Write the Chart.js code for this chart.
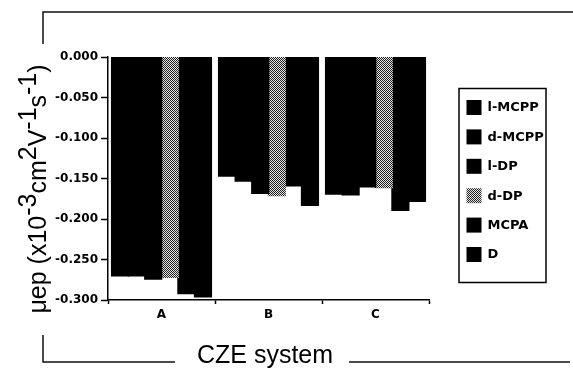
<!DOCTYPE html>
<html>
<head>
<meta charset="utf-8">
<script src="https://cdn.jsdelivr.net/npm/chart.js@4.4.1/dist/chart.umd.min.js"></script>
<style>
  html, body { margin: 0; padding: 0; background: #fff; }
</style>
</head>
<body>
<canvas id="chart" width="573" height="373"></canvas>
<script>
'use strict';
// data (x10-3 cm2 V-1 s-1)
const categories = ['A', 'B', 'C'];
const seriesNames = ['l-MCPP', 'd-MCPP', 'l-DP', 'd-DP', 'MCPA', 'D'];
const lMcpp = [-0.270, -0.147, -0.169];
const dMcpp = [-0.270, -0.153, -0.170];
const lDp = [-0.274, -0.168, -0.160];
const dDp = [-0.272, -0.171, -0.161];
const mcpa = [-0.292, -0.159, -0.189];
const dSeries = [-0.296, -0.183, -0.178];
const yTicks = [0, -0.05, -0.1, -0.15, -0.2, -0.25, -0.3];

const yTitleParts = [['\u03bcep (x10', 0], ['-3', 1], ['cm', 0], ['2', 1], ['V', 0], ['-1', 1], ['s', 0], ['-1', 1], [')', 0]];
const xTitle = 'CZE system';

// halftone fill used for d-DP
const makeDots = function () {
  const c = document.createElement('canvas');
  c.width = 2;
  c.height = 2;
  const g = c.getContext('2d');
  g.fillStyle = '#e4e4e4';
  g.fillRect(0, 0, 2, 2);
  g.fillStyle = '#222';
  g.fillRect(0, 0, 1, 1);
  g.fillRect(1, 1, 1, 1);
  return g.createPattern(c, 'repeat');
};
const dots = makeDots();

const seriesValues = [lMcpp, dMcpp, lDp, dDp, mcpa, dSeries];
const fills = ['#000', '#000', '#000', dots, '#000', '#000'];

const decorations = {
  id: 'decorations',
  afterDraw(chart) {
    const ctx = chart.ctx;
    ctx.save();

    // y title with raised exponents
    ctx.save();
    ctx.translate(46, 189);
    ctx.rotate(-Math.PI / 2);
    ctx.font = '25px "Liberation Sans", Arial, sans-serif';
    ctx.fillStyle = '#000';
    ctx.textBaseline = 'alphabetic';
    const total = yTitleParts.reduce((w, p) => w + ctx.measureText(p[0]).width, 0);
    let x = -total / 2;
    yTitleParts.forEach(p => {
      ctx.fillText(p[0], x, p[1] ? -10 : 0);
      x += ctx.measureText(p[0]).width;
    });
    ctx.restore();

    // x title
    ctx.font = '25px "Liberation Sans", Arial, sans-serif';
    ctx.fillStyle = '#000';
    ctx.textAlign = 'center';
    ctx.textBaseline = 'alphabetic';
    const cx = 265;
    ctx.fillText(xTitle, cx, 363);
    const tw = ctx.measureText(xTitle).width;

    // outer bracket frame
    ctx.strokeStyle = '#111';
    ctx.lineWidth = 1.5;
    ctx.beginPath();
    ctx.moveTo(43, 44);
    ctx.lineTo(43, 12);
    ctx.lineTo(573, 12);
    ctx.moveTo(43, 335);
    ctx.lineTo(43, 362);
    ctx.lineTo(cx - tw / 2 - 22, 362);
    ctx.moveTo(cx + tw / 2 + 16, 362);
    ctx.lineTo(570, 362);
    ctx.stroke();

    // legend box
    ctx.lineWidth = 1.5;
    ctx.strokeStyle = '#000';
    ctx.strokeRect(459, 88.5, 87, 194);
    ctx.font = 'bold 13px "DejaVu Sans", sans-serif';
    ctx.textAlign = 'left';
    ctx.textBaseline = 'middle';
    chart.data.datasets.forEach((ds, i) => {
      const cy = 107.5 + i * 29.4;
      ctx.fillStyle = ds.backgroundColor;
      ctx.fillRect(466.5, cy - 7.5, 15, 15);
      ctx.fillStyle = '#000';
      ctx.fillText(ds.label, 487.5, cy + 0.5);
    });
    ctx.restore();
  },
};

new Chart(document.getElementById('chart'), {
  type: 'bar',
  data: {
    labels: categories,
    datasets: seriesNames.map((name, i) => ({
      label: name,
      data: seriesValues[i],
      backgroundColor: fills[i],
      borderWidth: 0,
      inflateAmount: 0.8,
      barPercentage: 1,
      categoryPercentage: 0.93,
    })),
  },
  options: {
    responsive: false,
    animation: false,
    layout: { padding: { left: 38, top: 57, right: 144, bottom: 0 } },
    plugins: {
      legend: { display: false },
      tooltip: { enabled: false },
    },
    scales: {
      x: {
        afterFit: s => {
          s.height = 73;
        },
        border: { color: '#000', width: 1.5 },
        grid: { drawOnChartArea: false, offset: true, tickLength: 4, tickColor: '#000', tickWidth: 1.5 },
        ticks: {
          color: '#000',
          padding: 4,
          font: { family: 'DejaVu Sans', size: 12, weight: 'bold' },
        },
      },
      y: {
        min: -0.3,
        max: 0,
        afterBuildTicks: s => {
          s.ticks = yTicks.map(v => ({ value: v }));
        },
        afterFit: s => {
          s.width = 70;
        },
        border: { color: '#000', width: 1.5 },
        grid: { drawOnChartArea: false, tickLength: 7, tickColor: '#000', tickWidth: 1.5 },
        ticks: {
          color: '#000',
          padding: 3,
          font: { family: 'DejaVu Sans', size: 12, weight: 'bold' },
          callback: v => Number(v).toFixed(3),
        },
      },
    },
  },
  plugins: [decorations],
});
</script>
</body>
</html>
